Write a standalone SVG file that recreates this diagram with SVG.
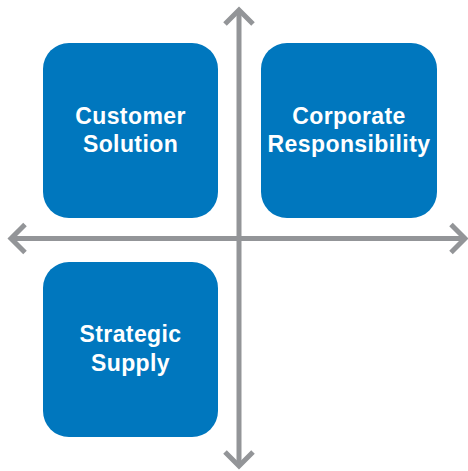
<svg xmlns="http://www.w3.org/2000/svg" width="468" height="471" viewBox="0 0 468 471">
<style>
.box{fill:#0077BE;}
.lbl{fill:#ffffff;font-family:"Liberation Sans",Arial,sans-serif;font-weight:700;font-size:23px;letter-spacing:0.4px;text-anchor:middle;}
.ax{fill:none;stroke:#939598;stroke-width:5;stroke-linejoin:miter;stroke-linecap:butt;}
</style>
<rect width="468" height="471" fill="#ffffff"/>
<g id="connectors">
<line class="ax" x1="239" y1="10" x2="239" y2="466"/>
<line class="ax" x1="11" y1="238.5" x2="465" y2="238.5"/>
<path class="ax" d="M225,24 L239,10 L253,24"/>
<path class="ax" d="M225,452 L239,466 L253,452"/>
<path class="ax" d="M25,224.5 L11,238.5 L25,252.5"/>
<path class="ax" d="M451,224.5 L465,238.5 L451,252.5"/>
</g>
<g id="customer-solution">
<rect class="box" x="43" y="43" width="175" height="175" rx="26"/>
<text class="lbl" x="130.5" y="124">Customer</text>
<text class="lbl" x="130.5" y="152">Solution</text>
</g>
<g id="corporate-responsibility">
<rect class="box" x="261" y="43" width="176" height="175" rx="26"/>
<text class="lbl" x="349" y="124">Corporate</text>
<text class="lbl" x="349" y="152">Responsibility</text>
</g>
<g id="strategic-supply">
<rect class="box" x="43" y="262" width="175" height="175" rx="26"/>
<text class="lbl" x="130.5" y="342">Strategic</text>
<text class="lbl" x="130.5" y="371">Supply</text>
</g>
</svg>
